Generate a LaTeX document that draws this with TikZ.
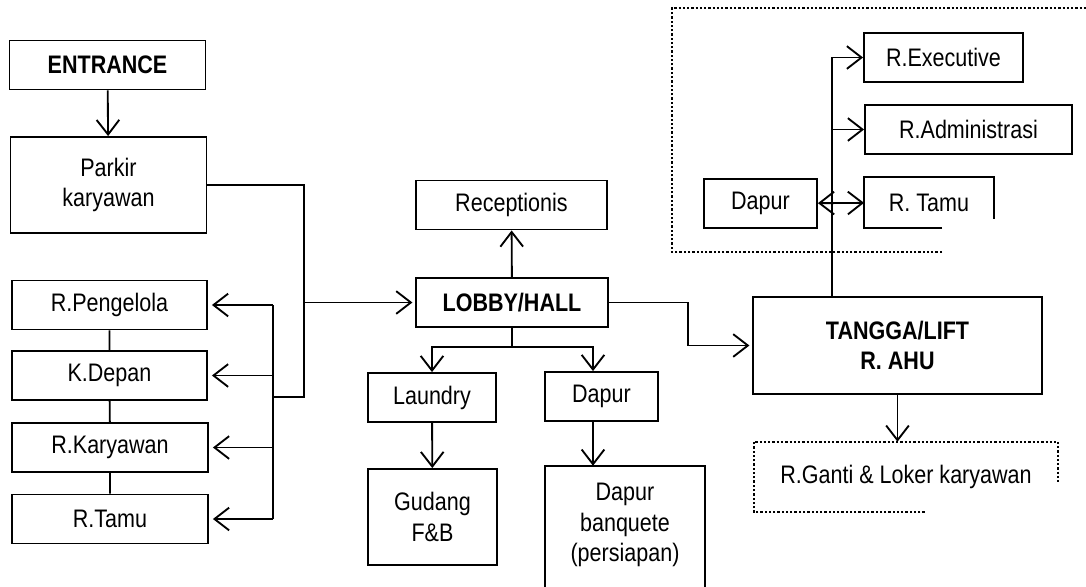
\documentclass[tikz,border=0pt]{standalone}
\usepackage{fontspec}
\setmainfont{Liberation Sans}[FakeStretch=0.85]
\usetikzlibrary{arrows.meta,calc,positioning}

\begin{document}
\begin{tikzpicture}[x=0.75pt,y=-0.75pt,
  >={Straight Barb[length=11pt,width=17pt]},
  font=\fontsize{19}{23}\selectfont,
  room/.style={draw,line width=1.4pt,align=center,inner sep=0pt,
    minimum width=#1,minimum height=36.75pt},
  room/.default=147pt,
  hd/.style={font=\fontsize{19}{23}\selectfont\bfseries},
  flow/.style={->,line width=1.4pt},
  link/.style={line width=1.4pt},
  dots/.style={line width=1.7pt,dash pattern=on 1.7pt off 1.5pt}]
\useasboundingbox (0,0) rectangle (1086,586);
% left column
\node[room,hd] (entr) at (107.5,65) {ENTRANCE};
\node[room,minimum height=72pt] (park) at (108.5,185) {Parkir\\karyawan};
\node[room=146.25pt] (peng) at (109.5,305) {R.Pengelola};
\node[room=146.25pt] (kdep) at (109.5,375.5) {K.Depan};
\node[room] (rkar) at (110,447.5) {R.Karyawan};
\node[room] (tamuL) at (110,519) {R.Tamu};
% centre
\node[room=143.25pt] (recp) at (511.5,205) {Receptionis};
\node[room=144pt,hd] (lobby) at (512,302.5) {LOBBY/HALL};
\node[room=96pt] (laund) at (432,397.5) {Laundry};
\node[room=84.75pt] (dapur) at (601.5,396.5) {Dapur};
\node[room=96.75pt,minimum height=72pt] (gudang) at (432.5,517) {Gudang\\F\&B};
\node[align=center,inner sep=0pt,minimum width=120pt,minimum height=88.5pt]
  (banq) at (625,525) {Dapur\\banquete\\(persiapan)};
% right
\node[room=216.75pt,hd,minimum height=72.75pt] (tangga) at (897.5,345.5)
  {TANGGA/LIFT\\R. AHU};
\node[inner sep=0pt,minimum width=228pt,minimum height=52.5pt] (ganti)
  at (906,477) {R.Ganti \& Loker karyawan};
\node[room=119.25pt] (rexec) at (943.5,57.5) {R.Executive};
\node[room=155.25pt] (radm) at (968.5,129.5) {R.Administrasi};
\node[room=96pt,draw=none] (tamuR) at (929,202.5) {R. Tamu};
\node[room=84.75pt] (dapurR) at (760.5,203.5) {Dapur};
% open outlines
\draw[link] ($(banq.south west)+(0,4)$) -- (banq.north west) -- (banq.north east)
  -- ($(banq.south east)+(0,4)$);
\draw[link] ($(tamuR.south west)+(78,0)$) -- (tamuR.south west) -- (tamuR.north west)
  -- (tamuR.north east) -- ($(tamuR.north east)+(0,42)$);
\draw[dots] ($(ganti.south west)+(171,0)$) -- (ganti.south west) -- (ganti.north west)
  -- (ganti.north east) -- ($(ganti.north east)+(0,41)$);
\draw[dots] (942,252) -- (672,252) -- (672,8) -- (1086,8);
% connectors
\coordinate (drop) at (304,397);
\coordinate (busT) at (273,305);
\coordinate (busB) at (273,519);
\draw[flow] (entr) -- (park);
\draw[link] (park.east) -| (drop) -- (drop -| busT);
\draw[link] (busT) -- (busB);
\foreach \r in {peng,kdep,rkar,tamuL}
  \draw[flow,shorten >=3pt] (busT |- \r.east) -- (\r.east);
\draw[link] (peng) -- (kdep) (kdep) -- (rkar) (rkar) -- (tamuL);
\draw[flow,shorten >=2pt] (lobby.west -| drop) -- (lobby.west);
\draw[flow] (lobby) -- (recp);
\coordinate (split) at (512,347);
\coordinate (dx) at (593,347);
\draw[link] (lobby) -- (split);
\draw[flow] (split) -| (laund.north);
\draw[flow] (split) -| (dapur.north -| dx);
\draw[flow] (laund) -- (gudang);
\draw[flow] (dapur.south -| dx) -- (banq.north -| dx);
\coordinate (bend) at (688,345.5);
\draw[flow,shorten >=2pt] (lobby.east) -| (bend) -- (tangga.west);
\draw[flow] (tangga.south) -- (tangga.south |- ganti.north);
\coordinate (riser) at (832,57.5);
\draw[flow] (tangga.north -| riser) -- (riser) -- (rexec.west);
\draw[flow] (riser |- radm.west) -- (radm.west);
\draw[<->,link] (dapurR) -- (tamuR);
\end{tikzpicture}
\end{document}
